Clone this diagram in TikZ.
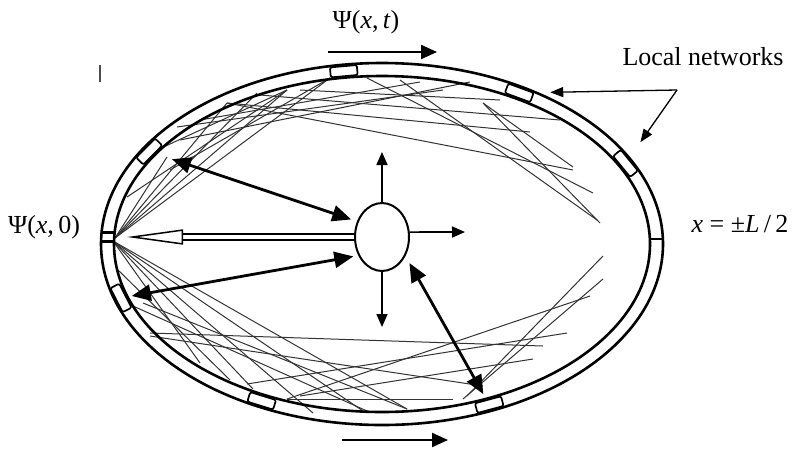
\documentclass[tikz,border=0pt]{standalone}
\usepackage{fontspec}
\setmainfont{Liberation Serif}
\usetikzlibrary{arrows.meta,shapes.geometric}

\begin{document}
\begin{tikzpicture}[x=1pt,y=-1pt,
    ring/.style={line width=2.6pt},
    ray/.style={line width=1pt,black!80},
    netbox/.style={draw,line width=1.7pt,fill=white,rounded corners=2pt,
      minimum width=27pt,minimum height=10pt,inner sep=0pt},
    spoke/.style={line width=1.7pt,-{Triangle[length=13pt,width=11pt]}},
    link/.style={line width=2.8pt,{Triangle[length=19pt,width=16pt]}-{Triangle[length=19pt,width=16pt]}},
    flow/.style={line width=2.2pt,-{Triangle[length=16pt,width=14pt]}},
    pointer/.style={line width=1.3pt,-{Triangle[length=13pt,width=10pt]}},
    lbl/.style={font=\fontsize{26}{30}\selectfont,inner sep=0pt}]
  \useasboundingbox (0,0) rectangle (800,456);
  % rays bouncing inside the ring
  \foreach \xa/\ya/\xb/\yb in {115/238/167/157, 115/238/227/103, 115/238/257/93,
      115/238/287/90, 115/238/330/78, 127/197/287/90, 157/150/287/90,
      170/170/330/78, 177/127/443/90, 180/140/470/82, 200/120/420/82,
      227/103/530/132, 227/103/573/170, 300/90/500/100, 260/95/560/120,
      367/78/593/193, 400/80/597/220, 483/103/600/223, 483/103/573/167,
      113/241/200/363, 113/241/253/389, 113/241/313/413, 113/241/363/411,
      113/241/407/409, 117/269/230/380, 133/306/367/411, 143/303/407/409,
      150/333/543/346, 150/336/483/386, 287/399/590/296, 247/384/567/333,
      300/396/533/359, 467/396/603/256, 463/399/603/279, 287/399/453/399}
    \draw[ray] (\xa,\ya) -- (\xb,\yb);
  % the ring
  \draw[ring] (382,244) ellipse [x radius=281, y radius=181];
  \draw[ring] (382,244) ellipse [x radius=268, y radius=168];
  \draw[line width=3pt] (101,232) -- (114,232) (101,241) -- (114,241);
  \draw[line width=2.5pt] (651,239) -- (664,239);
  % local networks on the ring
  \foreach \t/\n in {98/b1,148/b2,60/b3,27.5/b4,198/b5,244/b6,293/b7}
    \node[netbox,rotate={atan2(174.5*cos(\t),-274.5*sin(\t))}] (\n)
      at ({382+274.5*cos(\t)},{244-174.5*sin(\t)}) {};
  % centre
  \node[draw,ellipse,line width=2pt,fill=white,minimum width=54pt,
    minimum height=68pt,inner sep=0pt] (core) at (382,237) {};
  \coordinate (up) at (382,152);
  \coordinate (down) at (382,327);
  \coordinate (right) at (465,232);
  \coordinate (src) at (127,237);
  \draw[spoke] (core) -- (up);
  \draw[spoke] (core) -- (down);
  \draw[spoke] (core.10) -- (right);
  \draw[line width=1.5pt,double distance=4.5pt,
    -{Triangle[open,length=56pt,width=15pt]}] (core.west) -- (src);
  \draw[link,shorten <=24pt,shorten >=6pt] (b2.center) -- (core.148);
  \draw[link,shorten <=11pt,shorten >=5pt] (b5.center) -- (core.218);
  \draw[link,shorten <=12pt,shorten >=8pt] (b7.center) -- (core.321);
  % labels
  \node[lbl] (nets) at (703,57) {Local networks};
  \coordinate (fork) at (677,90);
  \draw[pointer,shorten >=31pt] (fork) -- (b3.center);
  \draw[pointer,shorten >=26pt] (fork) -- (b4.center);
  \node[lbl] (psi0) at (44,227) {Ψ(\textit{x},\,0)};
  \node[lbl] (psit) at (366,22) {Ψ(\textit{x},\,\textit{t})};
  \node[lbl] (edge) at (740,224) {\textit{x} = ±\textit{L}\,/\,2};
  \coordinate (ta) at (328,52);
  \coordinate (tb) at (437,52);
  \draw[flow] (ta) -- (tb);
  \coordinate (ba) at (342,440);
  \coordinate (bb) at (448,440);
  \draw[flow] (ba) -- (bb);
  \draw[line width=1.2pt,black!70] (100,65) -- (100,82);
\end{tikzpicture}
\end{document}
